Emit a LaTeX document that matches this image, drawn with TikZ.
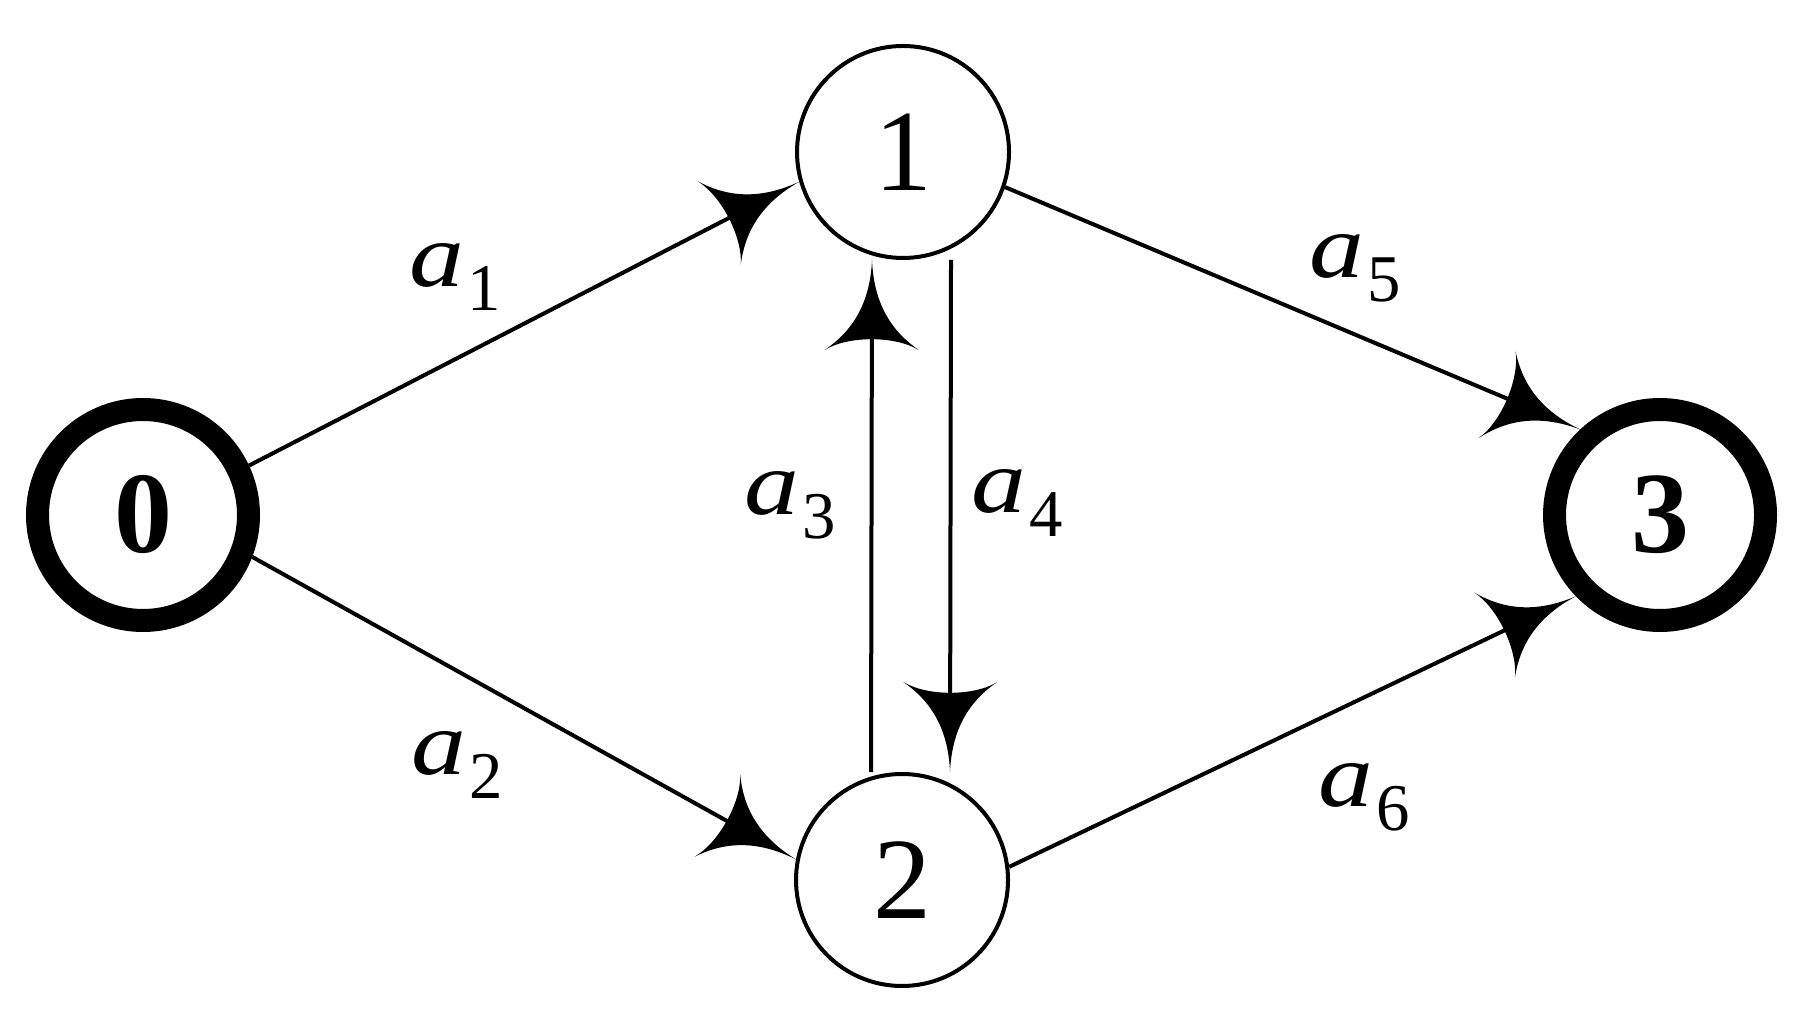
\documentclass[tikz,border=0pt]{standalone}
\usepackage{fontspec}
\setmainfont{Liberation Serif}
\usepackage{graphicx}
\usepackage{tikz}
\usetikzlibrary{arrows.meta}
\usetikzlibrary{positioning}

% concave arrow head
\pgfdeclarearrow{
  name = Cusp,
  parameters = {\the\pgfarrowlength,\the\pgfarrowwidth},
  setup code = {
    \pgfarrowssettipend{0pt}
    \pgfarrowssetlineend{-0.8\pgfarrowlength}
    \pgfarrowsupperhullpoint{0pt}{0pt}
    \pgfarrowsupperhullpoint{-\pgfarrowlength}{.5\pgfarrowwidth}
    \pgfarrowssavethe\pgfarrowlength
    \pgfarrowssavethe\pgfarrowwidth
  },
  drawing code = {
    \pgfpathmoveto{\pgfpoint{0pt}{0pt}}
    \pgfpathcurveto{\pgfpoint{-.5\pgfarrowlength}{.02\pgfarrowwidth}}
                   {\pgfpoint{-.8\pgfarrowlength}{.22\pgfarrowwidth}}
                   {\pgfpoint{-\pgfarrowlength}{.5\pgfarrowwidth}}
    \pgfpathcurveto{\pgfpoint{-.84\pgfarrowlength}{.25\pgfarrowwidth}}
                   {\pgfpoint{-.84\pgfarrowlength}{-.25\pgfarrowwidth}}
                   {\pgfpoint{-\pgfarrowlength}{-.5\pgfarrowwidth}}
    \pgfpathcurveto{\pgfpoint{-.8\pgfarrowlength}{-.22\pgfarrowwidth}}
                   {\pgfpoint{-.5\pgfarrowlength}{-.02\pgfarrowwidth}}
                   {\pgfpoint{0pt}{0pt}}
    \pgfpathclose
    \pgfusepathqfill
  },
  defaults = {length = 0.9cm, width = 0.94cm}
}

\newcommand{\actlbl}[1]{\scalebox{1.2}[1]{\textit{a}}\kern0.04em\raisebox{-0.26em}{\fontsize{19}{20}\selectfont #1}}

\begin{document}
\begin{tikzpicture}[
    state/.style={draw, circle, line width=0.04cm, inner sep=0pt, minimum size=2.12cm, font=\fontsize{33}{36}\selectfont},
    endstate/.style={state, line width=0.23cm, minimum size=2.11cm, font=\fontsize{33}{36}\selectfont\bfseries},
    act/.style={draw, line width=0.04cm},
    lbl/.style={inner sep=0pt, font=\fontsize{26}{28}\selectfont}
]
\useasboundingbox (0, 0) rectangle (18.11, 10.22);

% events

\node [endstate] at (1.43, 5.07) (n0) {0};
\node [state] at (9.03, 8.70) (n1) {1};
\node [state] at (9.02, 1.42) (n2) {2};
\node [endstate] at (16.60, 5.07) (n3) {3};

% activities

\path [act, -Cusp] (n0.25) to (n1.196);
\path [act, -Cusp] (n0.-21) to (n2.169);
\path [act, -Cusp] ([xshift=-0.31cm]n2.north) to ([xshift=-0.31cm]n1.south);
\path [act, -Cusp] ([xshift=0.48cm]n1.south) to ([xshift=0.48cm]n2.north);
\path [act, -Cusp] (n1.-19) to (n3.133);
\path [act, -Cusp] (n2.7) to (n3.224);

% labels

\node [lbl] at (4.55, 7.45) (l1) {\actlbl{1}};
\node [lbl] at (4.57, 2.57) (l2) {\actlbl{2}};
\node [lbl] at (7.90, 5.17) (l3) {\actlbl{3}};
\node [lbl] at (10.17, 5.19) (l4) {\actlbl{4}};
\node [lbl] at (13.55, 7.54) (l5) {\actlbl{5}};
\node [lbl] at (13.64, 2.25) (l6) {\actlbl{6}};

\end{tikzpicture}
\end{document}
